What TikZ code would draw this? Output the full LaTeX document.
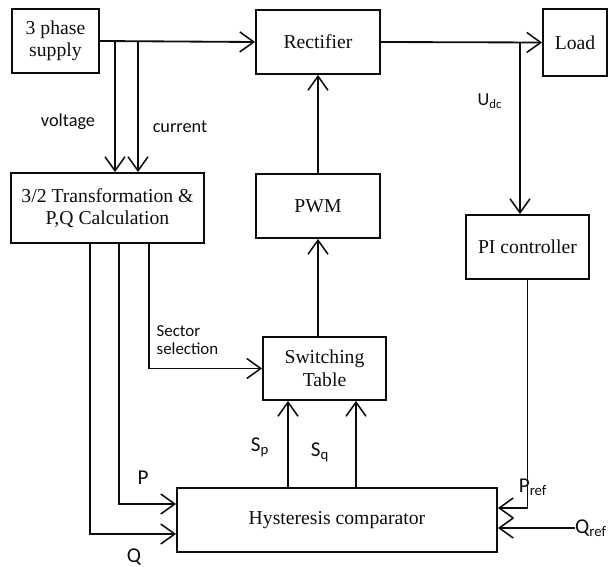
\documentclass[tikz,border=0pt]{standalone}
\usepackage{fontspec}
\setmainfont{Liberation Serif}
\newfontfamily\lblfont{Carlito}
\usetikzlibrary{arrows.meta,calc}

\definecolor{cLine}{gray}{0.05}
\definecolor{cText}{gray}{0.05}

\tikzset{
  blk/.style 2 args={draw=cLine, line width=1.3pt, minimum width=#1*0.025cm,
    minimum height=#2*0.025cm, align=center, text=cText,
    font=\fontsize{14}{16}\selectfont, inner sep=2pt},
  arr/.style={draw=cLine, line width=1.3pt,
    -{Straight Barb[length=3.5mm,width=5mm,line width=1.1pt]}},
  lbl/.style={font=\lblfont\fontsize{13}{14}\selectfont, text=cText, inner sep=1pt},
  biglbl/.style={font=\lblfont\fontsize{15}{16}\selectfont, text=cText, inner sep=1pt}
}

\begin{document}
\begin{tikzpicture}[x=0.025cm, y=-0.025cm]

\useasboundingbox (0,0) rectangle (608,567);

% ── Blocks ──
\node[blk={87}{64}]  (supply) at (55.5,41)  {3 phase\\supply};
\node[blk={124}{64}] (rect)   at (318,42)   {Rectifier};
\node[blk={64}{67}]  (load)   at (575,42.5) {Load};
\node[blk={193}{70}] (trans)  at (107.5,208) {3/2 Transformation \&\\P,Q Calculation};
\node[blk={124}{64}] (pwm)    at (318,206)  {PWM};
\node[blk={123}{64}] (pi)     at (527.5,247) {PI controller};
\node[blk={123}{63}] (swt)    at (324.5,368.5) {Switching\\Table};
\node[blk={320}{64}] (hyst)   at (337,520)  {Hysteresis comparator};

% ── Supply side ──
\draw[arr] (supply.east) -- (rect.west);
\coordinate (vtap) at (115,41);
\coordinate (ctap) at (138,41);
\draw[arr] (vtap) -- (vtap |- trans.north);
\draw[arr] (ctap) -- (ctap |- trans.north);
\node[lbl] (vlab) at (68,122)  {voltage};
\node[lbl] (clab) at (180,127) {current};

% ── DC side ──
\draw[arr] (rect.east) -- (load.west);
\coordinate (udc) at (520,42);
\draw[arr] (udc) -- (udc |- pi.north);
\node[lbl] (udclab) at (490,101) {U\textsubscript{dc}};

% ── PWM chain ──
\draw[arr] (pwm.north) -- (rect.south);
\draw[arr] (swt.north -| pwm.south) -- (pwm.south);

% ── Calculation outputs ──
\coordinate (qout) at (90,243);
\coordinate (pout) at (119,243);
\coordinate (sout) at (149,243);
\draw[arr] (sout) |- (swt.west);
\node[lbl, font=\lblfont\fontsize{12}{13}\selectfont, anchor=west, align=left]
  (seclab) at (155,340) {Sector\\selection};
\draw[arr] (pout) |- ($(hyst.west)+(0,-16)$);
\draw[arr] (qout) |- ($(hyst.west)+(0,14)$);
\node[biglbl] (plab) at (143,478) {P};
\node[biglbl] (qlab) at (134,557) {Q};

% ── Comparator outputs ──
\coordinate (sp) at (288,488);
\coordinate (sq) at (356,488);
\draw[arr] (sp) -- (sp |- swt.south);
\draw[arr] (sq) -- (sq |- swt.south);
\node[biglbl] (splab) at (260,447) {S\textsubscript{p}};
\node[biglbl] (sqlab) at (320,452) {S\textsubscript{q}};

% ── References ──
\draw[arr] (pi.south) |- ($(hyst.east)+(0,-12)$);
\node[biglbl] (preflab) at (533,487) {P\textsubscript{ref}};
\node[biglbl, anchor=east, inner sep=0pt] (qref) at (607,528) {Q\textsubscript{ref}};
\draw[arr] (qref.west) -- (qref.west -| hyst.east);

\end{tikzpicture}
\end{document}
